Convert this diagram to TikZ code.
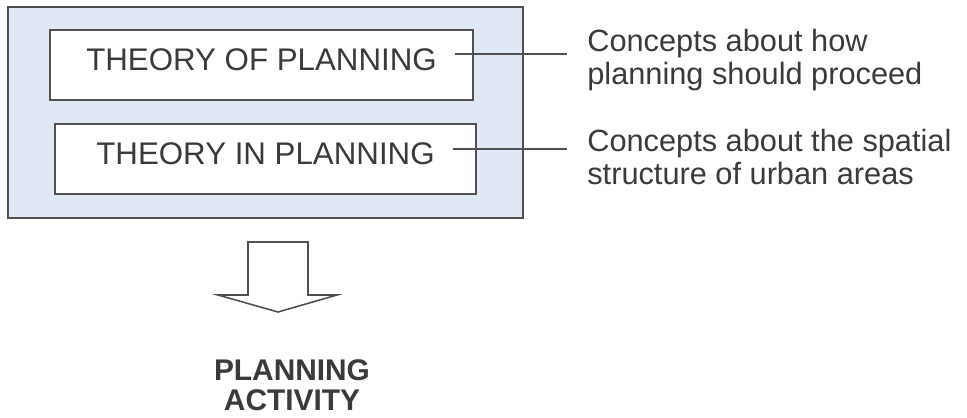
\documentclass[tikz,border=0pt]{standalone}
\usepackage{fontspec}
\setmainfont{Liberation Sans}
\usetikzlibrary{positioning, calc}
\definecolor{framefill}{RGB}{224,231,245}
\definecolor{ink}{RGB}{58,58,58}
\definecolor{rule}{RGB}{80,80,80}
\tikzstyle{frame} = [rectangle, draw=rule, fill=framefill, line width=0.9pt, minimum width=10.3cm, minimum height=4.22cm]
\tikzstyle{theory} = [rectangle, draw=rule, fill=white, line width=0.9pt, minimum height=1.4cm, text height=0.45cm, text depth=0.24cm, inner sep=0pt, text=ink, font=\fontsize{17.8}{18}\selectfont]
\tikzstyle{note} = [anchor=west, align=left, inner xsep=0.4cm, inner ysep=0pt, text=ink, font=\fontsize{17.5}{18.4}\selectfont]
\tikzstyle{outcome} = [align=center, inner sep=0pt, text=ink, font=\fontsize{17}{17}\selectfont\bfseries]
\tikzstyle{link} = [draw=rule, line width=0.9pt]
\tikzstyle{blockarrow} = [draw=rule, fill=white, line width=0.9pt, line join=miter]

\begin{document}
\begin{tikzpicture}[x=0.02cm, y=-0.02cm]
\useasboundingbox (0,0) rectangle (967,417);

% Frame
\node (frame) [frame] at (265.5,112.5) {};

% Theories
\node (theoryof) [theory, minimum width=8.46cm] at (261.5,65) {THEORY OF PLANNING};
\node (theoryin) [theory, minimum width=8.42cm] at (265.5,159) {THEORY IN PLANNING};

% Notes
\node (howNote) [note] at (567,60) {Concepts about how\\planning should proceed};
\node (spatialNote) [note] at (567,157) {Concepts about the spatial\\structure of urban areas};

% Links
\coordinate (ofTick) at (455,54);
\coordinate (inTick) at (453,149);
\draw [link] (ofTick) -- (ofTick -| howNote.west);
\draw [link] (inTick) -- (inTick -| spatialNote.west);

% Arrow
\draw [blockarrow] (248,242) -- (308,242) -- (308,295) -- (337,295) -- (278,312) -- (218,295) -- (248,295) -- cycle;

% Outcome
\node (activity) [outcome] at (292,385) {PLANNING\\ACTIVITY};

\end{tikzpicture}
\end{document}
